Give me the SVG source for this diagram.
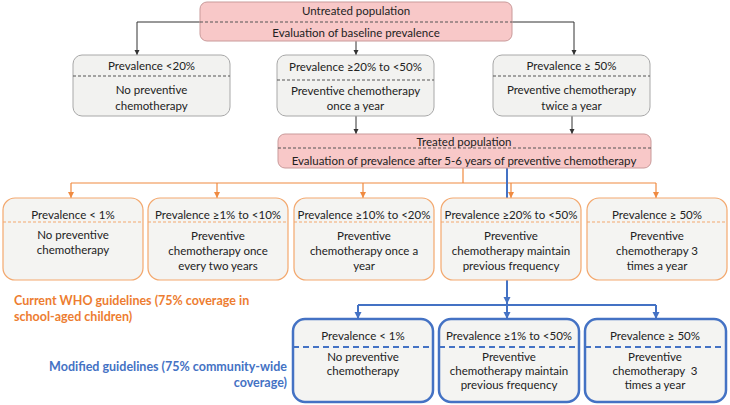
<svg xmlns="http://www.w3.org/2000/svg" width="730" height="405" viewBox="0 0 730 405">
<defs>
<style>
text{font-family:Lato,"Open Sans","Liberation Sans",sans-serif;font-size:11.5px;fill:#222;text-anchor:middle}
.pink{fill:#F8C8C8;stroke:#C99A9A;stroke-width:1}
.gray{fill:#F2F2F0;stroke:#A8A8A8;stroke-width:1}
.orb{fill:#F4F4F2;stroke:#F3A86E;stroke-width:1.2}
.blb{fill:#F4F4F2;stroke:#4472C4;stroke-width:2.5}
.dk{stroke:#555;stroke-width:1;stroke-dasharray:3 2}
.od{stroke:#F3A86E;stroke-width:1;stroke-dasharray:3 2}
.bd{stroke:#4472C4;stroke-width:2;stroke-dasharray:6 4}
.cb{fill:none;stroke:#333;stroke-width:1}
.co{fill:none;stroke:#F08A40;stroke-width:1.2}
.cl{fill:none;stroke:#4472C4;stroke-width:2}
.lo{font-weight:bold;font-size:12.5px;fill:#ED7D31;text-anchor:start}
.lb{font-weight:bold;font-size:12.5px;fill:#4472C4;text-anchor:end}
</style>
<marker id="ab" markerWidth="6" markerHeight="6" refX="5" refY="3" orient="auto" markerUnits="userSpaceOnUse"><path d="M0,0.5 L5,3 L0,5.5Z" fill="#333"/></marker>
<marker id="ao" markerWidth="7" markerHeight="7" refX="6" refY="3.5" orient="auto" markerUnits="userSpaceOnUse"><path d="M0,0.5 L6,3.5 L0,6.5Z" fill="#F08A40"/></marker>
<marker id="al" markerWidth="8" markerHeight="8" refX="7" refY="4" orient="auto" markerUnits="userSpaceOnUse"><path d="M0,0.5 L7,4 L0,7.5Z" fill="#4472C4"/></marker>
</defs>

<g id="connectors">
<path class="cb" d="M200,22 H137 V55" marker-end="url(#ab)"/>
<path class="cb" d="M512,22 H574 V55" marker-end="url(#ab)"/>
<path class="cb" d="M356,41 V55" marker-end="url(#ab)"/>
<path class="cb" d="M356,116 V134" marker-end="url(#ab)"/>
<path class="cb" d="M572,116 V134" marker-end="url(#ab)"/>
<path class="co" d="M463,168 V183 M71,183 H656"/>
<path class="co" d="M71,183 V198" marker-end="url(#ao)"/>
<path class="co" d="M217,183 V198" marker-end="url(#ao)"/>
<path class="co" d="M363,183 V198" marker-end="url(#ao)"/>
<path class="co" d="M511,183 V198" marker-end="url(#ao)"/>
<path class="co" d="M656,183 V198" marker-end="url(#ao)"/>
<path class="cl" d="M507,168 V198"/>
<path class="cl" d="M507,280 V304" marker-end="url(#al)"/>
<path class="cl" d="M358,305 H656"/>
<path class="cl" d="M358,305 V319" marker-end="url(#al)"/>
<path class="cl" d="M507,305 V319" marker-end="url(#al)"/>
<path class="cl" d="M656,305 V319" marker-end="url(#al)"/>
</g>

<g id="untreated">
<rect class="pink" x="200" y="2" width="312" height="39" rx="7"/>
<line class="dk" x1="200" y1="22" x2="512" y2="22"/>
<text x="356" y="15">Untreated population</text>
<text x="356" y="37">Evaluation of baseline prevalence</text>
</g>

<g id="b-lt20">
<rect class="gray" x="73" y="55" width="157" height="61" rx="9"/>
<line class="dk" x1="73" y1="76" x2="230" y2="76"/>
<text x="151.5" y="70">Prevalence &lt;20%</text>
<text x="151.5" y="94">No preventive</text>
<text x="151.5" y="110">chemotherapy</text>
</g>
<g id="b-20to50">
<rect class="gray" x="277" y="55" width="157" height="61" rx="9"/>
<line class="dk" x1="277" y1="80" x2="434" y2="80"/>
<text x="355.5" y="71">Prevalence ≥20% to &lt;50%</text>
<text x="355.5" y="95">Preventive chemotherapy</text>
<text x="355.5" y="110">once a year</text>
</g>
<g id="b-ge50">
<rect class="gray" x="493" y="55" width="157" height="61" rx="9"/>
<line class="dk" x1="493" y1="76" x2="650" y2="76"/>
<text x="571.5" y="70">Prevalence ≥ 50%</text>
<text x="571.5" y="94">Preventive chemotherapy</text>
<text x="571.5" y="110">twice a year</text>
</g>

<g id="treated">
<rect class="pink" x="278" y="134" width="373" height="34" rx="7"/>
<line class="dk" x1="278" y1="148" x2="651" y2="148"/>
<text x="464" y="146">Treated population</text>
<text x="464" y="165">Evaluation of prevalence after 5-6 years of preventive chemotherapy</text>
</g>

<g id="o1">
<rect class="orb" x="3" y="198" width="140" height="82" rx="12"/>
<line class="od" x1="3" y1="222" x2="143" y2="222"/>
<text x="73" y="219">Prevalence &lt; 1%</text>
<text x="73" y="239">No preventive</text>
<text x="73" y="254">chemotherapy</text>
</g>
<g id="o2">
<rect class="orb" x="148" y="198" width="140" height="82" rx="12"/>
<line class="od" x1="148" y1="222" x2="288" y2="222"/>
<text x="218" y="219">Prevalence ≥1% to &lt;10%</text>
<text x="218" y="240">Preventive</text>
<text x="218" y="255">chemotherapy once</text>
<text x="218" y="270">every two years</text>
</g>
<g id="o3">
<rect class="orb" x="294" y="198" width="140" height="82" rx="12"/>
<line class="od" x1="294" y1="222" x2="434" y2="222"/>
<text x="364" y="219">Prevalence ≥10% to &lt;20%</text>
<text x="364" y="240">Preventive</text>
<text x="364" y="255">chemotherapy once a</text>
<text x="364" y="270">year</text>
</g>
<g id="o4">
<rect class="orb" x="441" y="198" width="140" height="82" rx="12"/>
<line class="od" x1="441" y1="222" x2="581" y2="222"/>
<text x="511" y="219">Prevalence ≥20% to &lt;50%</text>
<text x="511" y="240">Preventive</text>
<text x="511" y="255">chemotherapy maintain</text>
<text x="511" y="270">previous frequency</text>
</g>
<g id="o5">
<rect class="orb" x="587" y="198" width="140" height="82" rx="12"/>
<line class="od" x1="587" y1="222" x2="727" y2="222"/>
<text x="657" y="219">Prevalence ≥ 50%</text>
<text x="657" y="240">Preventive</text>
<text x="657" y="255">chemotherapy 3</text>
<text x="657" y="270">times a year</text>
</g>

<g id="label-who">
<text class="lo" x="14" y="305">Current WHO guidelines (75% coverage in</text>
<text class="lo" x="14" y="321">school-aged children)</text>
</g>
<g id="label-mod">
<text class="lb" x="287" y="371">Modified guidelines (75% community-wide</text>
<text class="lb" x="287" y="387">coverage)</text>
</g>

<g id="m1">
<rect class="blb" x="293" y="319" width="140" height="83" rx="12"/>
<line class="bd" x1="293" y1="347" x2="433" y2="347"/>
<text x="363" y="340">Prevalence &lt; 1%</text>
<text x="363" y="361">No preventive</text>
<text x="363" y="375">chemotherapy</text>
</g>
<g id="m2">
<rect class="blb" x="439" y="319" width="140" height="83" rx="12"/>
<line class="bd" x1="439" y1="347" x2="579" y2="347"/>
<text x="509" y="340">Prevalence ≥1% to &lt;50%</text>
<text x="509" y="361">Preventive</text>
<text x="509" y="375">chemotherapy maintain</text>
<text x="509" y="389">previous frequency</text>
</g>
<g id="m3">
<rect class="blb" x="585" y="319" width="141" height="83" rx="12"/>
<line class="bd" x1="585" y1="347" x2="726" y2="347"/>
<text x="655" y="340">Prevalence ≥ 50%</text>
<text x="655" y="361">Preventive</text>
<text x="655" y="375">chemotherapy&#160;&#160;3</text>
<text x="655" y="389">times a year</text>
</g>
</svg>
